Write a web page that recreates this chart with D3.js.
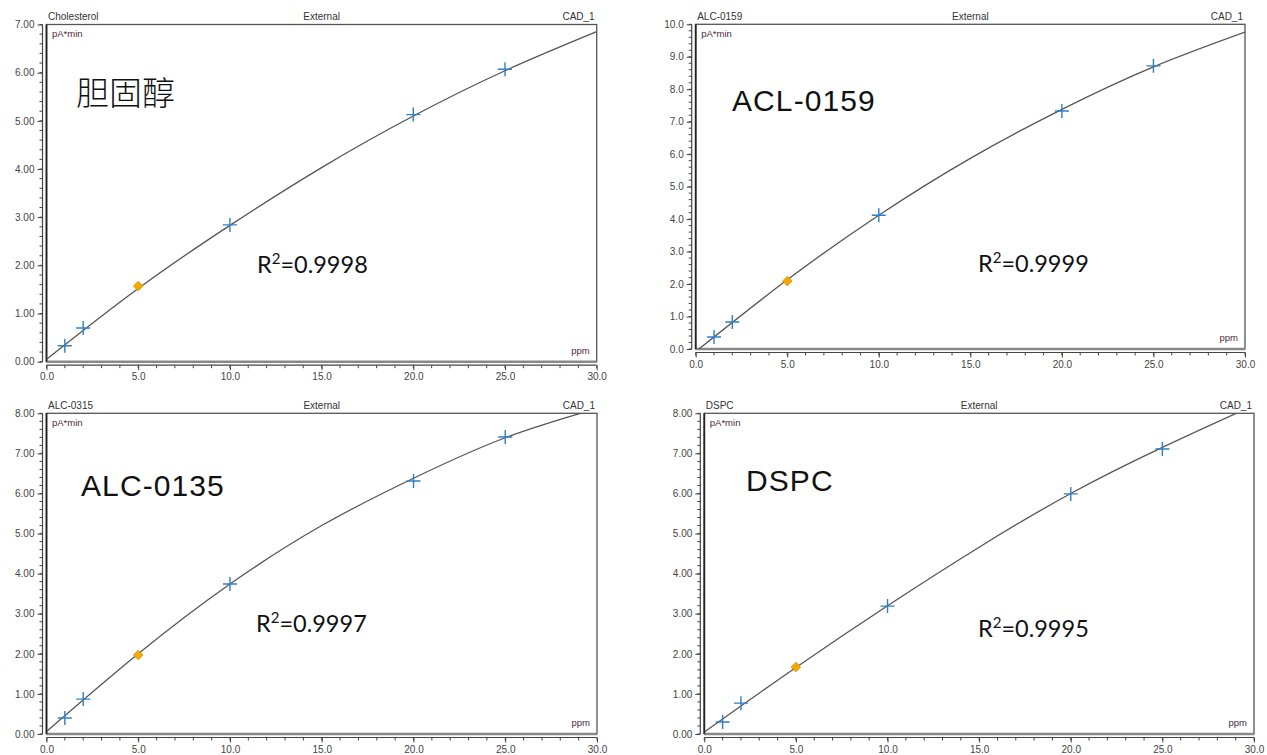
<!DOCTYPE html>
<html>
<head>
<meta charset="utf-8">
<script src="https://cdn.jsdelivr.net/npm/d3@7"></script>
<style>
  html, body { margin: 0; padding: 0; background: #fff; }
  svg { display: block; }
</style>
</head>
<body>
<svg id="chart" width="1267" height="755"></svg>
<script>
// ---------------- DATA ----------------
const panelTitles = ["Cholesterol", "ALC-0159", "ALC-0315", "DSPC"];
const methodLabel = "External";
const channelLabel = "CAD_1";
const yUnit = "pA*min";
const xUnit = "ppm";
const compoundLabels = ["胆固醇", "ACL-0159", "ALC-0135", "DSPC"];
const r2Values = ["0.9998", "0.9999", "0.9997", "0.9995"];

const concentrations = [1, 2, 5, 10, 20, 25];          // ppm
const checkStandardIndex = 2;                          // 5 ppm point (orange)
const cholesterolAreas = [0.33, 0.70, 1.57, 2.84, 5.13, 6.07];
const alc0159Areas     = [0.37, 0.83, 2.09, 4.12, 7.33, 8.72];
const alc0315Areas     = [0.40, 0.87, 1.97, 3.74, 6.31, 7.41];
const dspcAreas        = [0.30, 0.77, 1.67, 3.19, 5.99, 7.11];

// calibration curves
const curveX = [0, 5, 10, 15, 20, 25, 30];
const cholesterolCurve = [0.05, 1.52, 2.83, 4.03, 5.10, 6.04, 6.85];
const alc0159Curve     = [-0.08, 2.13, 4.12, 5.87, 7.38, 8.69, 9.76];
const alc0315Curve     = [0.06, 2.00, 3.74, 5.20, 6.38, 7.39, 8.12];
const dspcCurve        = [0.05, 1.66, 3.20, 4.66, 6.00, 7.15, 8.20];

const xTicks = [0, 5, 10, 15, 20, 25, 30];
const yMaxima = [7, 10, 8, 8];
const yTickFormats = [".2f", ".1f", ".2f", ".2f"];

const seriesAreas = [cholesterolAreas, alc0159Areas, alc0315Areas, dspcAreas];
const seriesCurves = [cholesterolCurve, alc0159Curve, alc0315Curve, dspcCurve];

// ---------------- LAYOUT ----------------
const layout = [
  { x0: 46.5, x1: 596.7, yTop: 24.5, yBot: 361.7, lab: [76, 105], r2: [257, 273] },
  { x0: 695.7, x1: 1245, yTop: 24.3, yBot: 349, lab: [732, 111], r2: [978, 272] },
  { x0: 46.5, x1: 597, yTop: 413.3, yBot: 734, lab: [81, 496], r2: [256, 632] },
  { x0: 704.3, x1: 1254, yTop: 413.3, yBot: 734, lab: [746, 491], r2: [978, 637] }
];

const svg = d3.select("#chart");
const axisColor = "#444";
const tickFont = "'Liberation Sans', Arial, sans-serif";

layout.forEach((L, i) => {
  const g = svg.append("g");
  const x = d3.scaleLinear().domain([0, 30]).range([L.x0, L.x1]);
  const y = d3.scaleLinear().domain([0, yMaxima[i]]).range([L.yBot, L.yTop]);

  const clipId = "clip" + i;
  svg.append("clipPath").attr("id", clipId)
    .append("rect").attr("x", L.x0).attr("y", L.yTop)
    .attr("width", L.x1 - L.x0).attr("height", L.yBot - L.yTop);

  // y axis (offset left of frame)
  const yMinor = d3.range(0, yMaxima[i] + 1e-9, 0.2);
  const yAxisX = L.x0 - 4;
  const yAxis = d3.axisLeft(y).tickValues(d3.range(0, yMaxima[i] + 1e-9, 1))
    .tickFormat(d3.format(yTickFormats[i])).tickSize(5).tickPadding(3);
  const ya = g.append("g").attr("transform", `translate(${yAxisX},0)`).call(yAxis);
  ya.append("g").selectAll("line").data(yMinor).join("line")
    .attr("x1", -3).attr("x2", 0).attr("y1", d => y(d)).attr("y2", d => y(d))
    .attr("stroke", axisColor);

  // x axis (offset below frame)
  const xAxisY = L.yBot + 3.5;
  const xAxis = d3.axisBottom(x).tickValues(xTicks).tickFormat(d3.format(".1f"))
    .tickSize(5).tickPadding(3);
  const xa = g.append("g").attr("transform", `translate(0,${xAxisY})`).call(xAxis);
  xa.append("g").selectAll("line").data(d3.range(0, 31, 1)).join("line")
    .attr("x1", d => x(d)).attr("x2", d => x(d)).attr("y1", 0).attr("y2", 3)
    .attr("stroke", axisColor);

  [ya, xa].forEach(a => {
    a.select(".domain").attr("stroke", axisColor).attr("stroke-width", 1.2);
    a.selectAll(".tick line").attr("stroke", axisColor);
    a.selectAll(".tick text").attr("fill", "#444").attr("font-size", 10)
      .attr("font-family", tickFont);
  });
  ya.select(".domain").attr("d", `M0,${L.yTop}V${L.yBot}`);
  xa.select(".domain").attr("d", `M${L.x0},0H${L.x1}`);

  // frame
  g.append("rect").attr("x", L.x0).attr("y", L.yTop)
    .attr("width", L.x1 - L.x0).attr("height", L.yBot - L.yTop)
    .attr("fill", "none").attr("stroke", "#555").attr("stroke-width", 1.3);
  g.append("line").attr("x1", L.x0).attr("x2", L.x1).attr("y1", L.yBot).attr("y2", L.yBot)
    .attr("stroke", "#888").attr("stroke-width", 2.5);
  g.append("line").attr("x1", L.x0).attr("x2", L.x0).attr("y1", L.yTop).attr("y2", L.yBot)
    .attr("stroke", "#222").attr("stroke-width", 1.8);

  // header texts
  g.append("text").attr("x", L.x0 + 1.5).attr("y", L.yTop - 4.5).text(panelTitles[i])
    .attr("font-size", 10).attr("font-family", tickFont).attr("fill", "#333");
  g.append("text").attr("x", (L.x0 + L.x1) / 2).attr("y", L.yTop - 4.5).text(methodLabel)
    .attr("text-anchor", "middle").attr("font-size", 10).attr("font-family", tickFont).attr("fill", "#333");
  g.append("text").attr("x", L.x1 - 2).attr("y", L.yTop - 4.5).text(channelLabel)
    .attr("text-anchor", "end").attr("font-size", 10).attr("font-family", tickFont).attr("fill", "#333");
  g.append("text").attr("x", L.x0 + 5.5).attr("y", L.yTop + 12.5).text(yUnit)
    .attr("font-size", 9.5).attr("font-family", tickFont).attr("fill", "#4a2a40");
  g.append("text").attr("x", L.x1 - 7).attr("y", L.yBot - 8).text(xUnit)
    .attr("text-anchor", "end").attr("font-size", 9.5).attr("font-family", tickFont).attr("fill", "#4a2a40");

  // calibration curve
  const line = d3.line().x(d => x(d[0])).y(d => y(d[1])).curve(d3.curveNatural);
  g.append("path").datum(curveX.map((cx, k) => [cx, seriesCurves[i][k]]))
    .attr("clip-path", `url(#${clipId})`)
    .attr("d", line).attr("fill", "none").attr("stroke", "#555").attr("stroke-width", 1.3);

  // points
  const pts = concentrations.map((c, k) => ({ c, v: seriesAreas[i][k], k }));
  g.selectAll("path.cross").data(pts.filter(p => p.k !== checkStandardIndex)).join("path")
    .attr("class", "cross")
    .attr("d", p => `M${x(p.c) - 7},${y(p.v)}H${x(p.c) + 7}M${x(p.c)},${y(p.v) - 7}V${y(p.v) + 7}`)
    .attr("stroke", "#2f7fc6").attr("stroke-width", 1.4).attr("fill", "none");
  g.selectAll("path.check").data(pts.filter(p => p.k === checkStandardIndex)).join("path")
    .attr("class", "check")
    .attr("transform", p => `translate(${x(p.c)},${y(p.v)}) rotate(45)`)
    .attr("d", d3.symbol(d3.symbolSquare, 46))
    .attr("fill", "#f2a900").attr("stroke", "#e39100").attr("stroke-width", 0.8);

  // big labels
  const isCJK = i === 0;
  g.append("text").attr("x", L.lab[0]).attr("y", L.lab[1]).text(compoundLabels[i])
    .attr("font-size", isCJK ? 33 : 30)
    .attr("font-weight", 300)
    .attr("letter-spacing", isCJK ? 0 : 1.1)
    .attr("font-family", isCJK ? "'Noto Sans CJK SC', sans-serif" : "'Liberation Sans', Arial, sans-serif")
    .attr("fill", "#111");

  const r2 = g.append("text").attr("x", L.r2[0]).attr("y", L.r2[1])
    .attr("font-size", 23.5).attr("font-family", "Lato, 'Open Sans', sans-serif").attr("fill", "#111");
  r2.append("tspan").text("R");
  r2.append("tspan").text("2").attr("font-size", 15).attr("dy", -9);
  r2.append("tspan").text("=" + r2Values[i]).attr("dy", 9);
});
</script>
</body>
</html>
